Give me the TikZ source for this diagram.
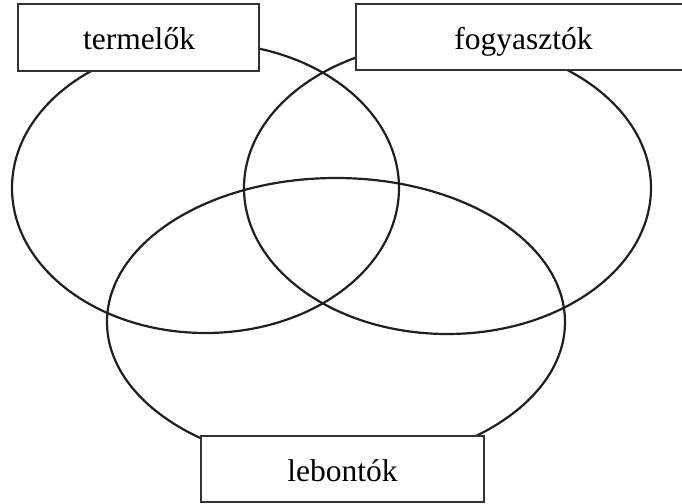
\documentclass[tikz,border=0pt]{standalone}
\usepackage{fontspec}
\setmainfont{Liberation Serif}
\begin{document}
\begin{tikzpicture}[x=0.5pt,y=-0.5pt,
  venn/.style={draw=black!88,line width=1.1pt},
  labelbox/.style={draw=black!80,fill=white,line width=0.7pt,rectangle,inner sep=0pt},
  labeltext/.style={anchor=base,inner sep=0pt,font=\fontsize{15.75}{18}\selectfont}]
\useasboundingbox (0,0) rectangle (682,504);
% ellipses
\draw[venn] (205.5,188) ellipse [x radius=193.5, y radius=145];
\draw[venn] (447.5,188) ellipse [x radius=203.5, y radius=146];
\draw[venn] (336,322) ellipse [x radius=229, y radius=144];
% boxes
\node[labelbox,minimum width=120.5pt,minimum height=33.5pt] (tbox) at (138.5,37.5) {};
\node[labelbox,minimum width=164pt,minimum height=33pt] (fbox) at (520,37) {};
\node[labelbox,minimum width=141.5pt,minimum height=33pt] (lbox) at (342.5,469) {};
% texts
\node[labeltext] (ttext) at (139,49) {termelők};
\node[labeltext] (ftext) at (523.5,49) {fogyasztók};
\node[labeltext] (ltext) at (342.5,481) {lebontók};
\end{tikzpicture}
\end{document}
